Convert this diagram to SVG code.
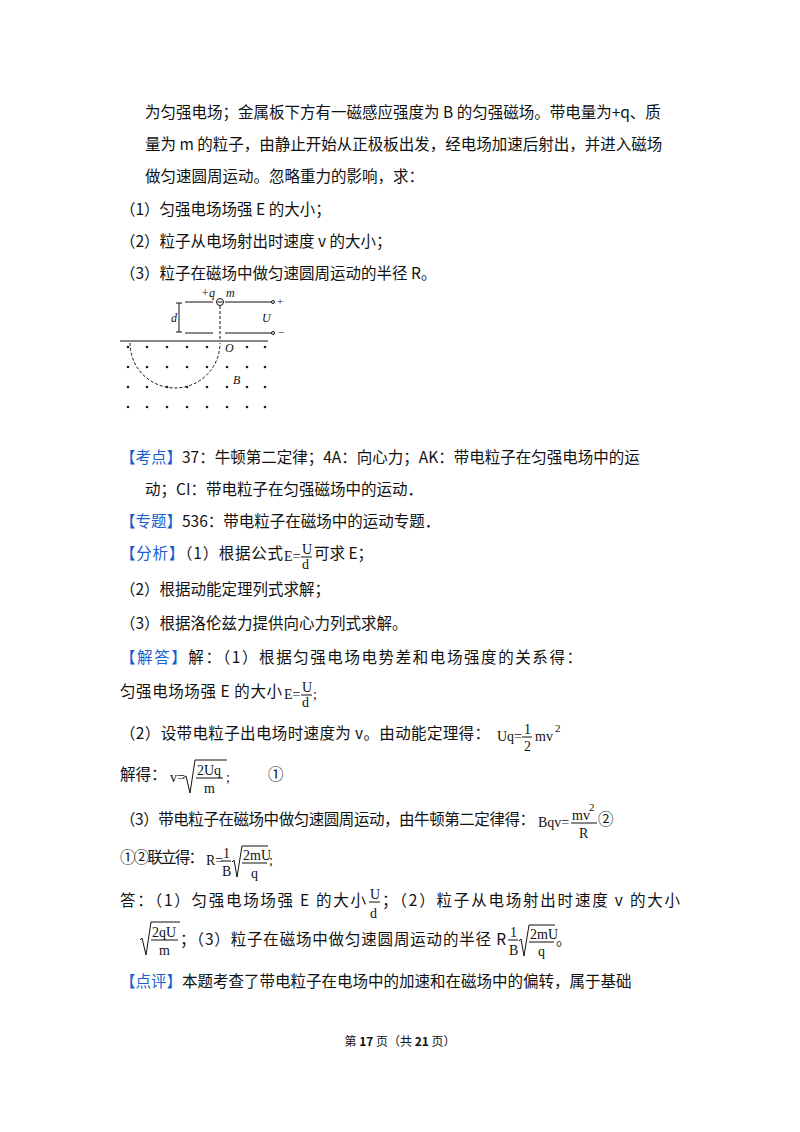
<svg xmlns="http://www.w3.org/2000/svg" width="800" height="1132" viewBox="0 0 800 1132">
<style>
text{font-family:"Noto Sans CJK SC","Noto Sans",sans-serif;font-size:15.5px;fill:#111}
.m{font-family:"Liberation Serif",serif;font-size:14px}
.s{font-family:"Liberation Serif",serif;font-size:11px}
.i{font-family:"Liberation Serif",serif;font-style:italic;font-size:12px}
.b{fill:#1a5fd0}
.ln{stroke:#111;stroke-width:1;fill:none}
.dot{fill:#222}
</style>
<rect width="800" height="1132" fill="#fff"/>
<text x="145" y="118">为匀强电场；金属板下方有一磁感应强度为 B 的匀强磁场。带电量为+q、质</text>
<text x="145" y="150">量为 m 的粒子，由静止开始从正极板出发，经电场加速后射出，并进入磁场</text>
<text x="145" y="182">做匀速圆周运动。忽略重力的影响，求：</text>
<text x="120" y="215">（1）匀强电场场强 E 的大小；</text>
<text x="120" y="247">（2）粒子从电场射出时速度 v 的大小；</text>
<text x="120" y="279">（3）粒子在磁场中做匀速圆周运动的半径 R。</text>
<g id="figure">
<line class="ln" x1="185" y1="302" x2="213" y2="302" stroke-width="2"/>
<line class="ln" x1="225" y1="302" x2="258" y2="302" stroke-width="2"/>
<line class="ln" x1="258" y1="302" x2="272" y2="302"/>
<circle cx="273" cy="302" r="1.5" class="ln"/>
<line class="ln" x1="185" y1="333" x2="213" y2="333" stroke-width="2"/>
<line class="ln" x1="225" y1="333" x2="258" y2="333" stroke-width="2"/>
<line class="ln" x1="258" y1="333" x2="272" y2="333"/>
<circle cx="273" cy="333" r="1.5" class="ln"/>
<circle cx="220" cy="302" r="3.5" class="ln"/>
<line class="ln" x1="217.5" y1="302" x2="222.5" y2="302"/>
<line class="ln" x1="179" y1="303" x2="179" y2="332"/>
<line class="ln" x1="176" y1="303" x2="182" y2="303"/>
<line class="ln" x1="176" y1="332" x2="182" y2="332"/>
<line class="ln" x1="120" y1="341" x2="268" y2="341"/>
<line class="ln" x1="220" y1="306" x2="220" y2="341" stroke-dasharray="3,2"/>
<path class="ln" d="M130 343 A45 45 0 0 0 220 343" stroke-dasharray="3,2"/>
<text class="i" x="201" y="297">+q</text>
<text class="i" x="226" y="297">m</text>
<text class="i" x="171" y="322">d</text>
<text class="i" x="262" y="322">U</text>
<text class="s" x="277" y="305">+</text>
<text class="s" x="278" y="336">−</text>
<text class="i" x="225" y="352">O</text>
<text class="i" x="233" y="384">B</text>
<g class="dot">
<circle cx="128" cy="347" r="1.3"/><circle cx="147" cy="347" r="1.3"/><circle cx="167" cy="347" r="1.3"/><circle cx="187" cy="347" r="1.3"/><circle cx="207" cy="347" r="1.3"/><circle cx="247" cy="347" r="1.3"/><circle cx="265" cy="347" r="1.3"/>
<circle cx="128" cy="367" r="1.3"/><circle cx="147" cy="367" r="1.3"/><circle cx="167" cy="367" r="1.3"/><circle cx="187" cy="367" r="1.3"/><circle cx="207" cy="367" r="1.3"/><circle cx="227" cy="367" r="1.3"/><circle cx="247" cy="367" r="1.3"/><circle cx="265" cy="367" r="1.3"/>
<circle cx="128" cy="387" r="1.3"/><circle cx="147" cy="387" r="1.3"/><circle cx="167" cy="387" r="1.3"/><circle cx="187" cy="387" r="1.3"/><circle cx="207" cy="387" r="1.3"/><circle cx="227" cy="387" r="1.3"/><circle cx="247" cy="387" r="1.3"/><circle cx="265" cy="387" r="1.3"/>
<circle cx="128" cy="407" r="1.3"/><circle cx="147" cy="407" r="1.3"/><circle cx="167" cy="407" r="1.3"/><circle cx="187" cy="407" r="1.3"/><circle cx="207" cy="407" r="1.3"/><circle cx="227" cy="407" r="1.3"/><circle cx="247" cy="407" r="1.3"/><circle cx="265" cy="407" r="1.3"/>
</g>
</g>
<text x="120" y="463"><tspan class="b">【考点】</tspan>37：牛顿第二定律；4A：向心力；AK：带电粒子在匀强电场中的运</text>
<text x="145" y="495">动；CI：带电粒子在匀强磁场中的运动．</text>
<text x="120" y="527"><tspan class="b">【专题】</tspan>536：带电粒子在磁场中的运动专题．</text>
<text x="120" y="559" textLength="163"><tspan class="b">【分析】</tspan>（1）根据公式</text>
<text class="m" x="284" y="561">E=</text><text class="m" x="302" y="554">U</text><line class="ln" x1="301" y1="557" x2="312" y2="557"/><text class="m" x="302" y="569">d</text>
<text x="314" y="559">可求 E；</text>
<text x="120" y="595">（2）根据动能定理列式求解；</text>
<text x="120" y="629">（3）根据洛伦兹力提供向心力列式求解。</text>
<text x="120" y="663" textLength="462"><tspan class="b">【解答】</tspan>解：（1）根据匀强电场电势差和电场强度的关系得：</text>
<text x="120" y="697" textLength="162">匀强电场场强 E 的大小</text>
<text class="m" x="284" y="699">E=</text><text class="m" x="302" y="692">U</text><line class="ln" x1="301" y1="695" x2="312" y2="695"/><text class="m" x="302" y="707">d</text><text class="m" x="313" y="699">;</text>
<text x="120" y="739" textLength="370">（2）设带电粒子出电场时速度为 v。由动能定理得：</text>
<text class="m" x="497" y="741">Uq=</text><text class="m" x="524" y="734">1</text><line class="ln" x1="522" y1="737" x2="532" y2="737"/><text class="m" x="524" y="751">2</text><text class="m" x="535" y="741">mv</text><text class="s" x="555" y="732">2</text>
<text x="120" y="780">解得：</text>
<text class="m" x="170" y="782">v=</text><path class="ln" d="M183 778 L186 776 L190 793 L195 760 L227 760"/><text class="m" x="197" y="775">2Uq</text><line class="ln" x1="196" y1="778" x2="223" y2="778"/><text class="m" x="204" y="793">m</text><text class="m" x="226" y="782">;</text>
<text x="268" y="780">①</text>
<text x="120" y="825" textLength="415">（3）带电粒子在磁场中做匀速圆周运动，由牛顿第二定律得：</text>
<text class="m" x="538" y="827">Bqv=</text><text class="m" x="572" y="820">mv</text><text class="s" x="589" y="811">2</text><line class="ln" x1="571" y1="823" x2="597" y2="823"/><text class="m" x="579" y="838">R</text>
<text x="598" y="825">②</text>
<text x="120" y="863" textLength="84">①②联立得：</text>
<text class="m" x="206" y="865">R=</text><text class="m" x="223" y="858">1</text><line class="ln" x1="221" y1="861" x2="231" y2="861"/><text class="m" x="222" y="876">B</text><path class="ln" d="M232 862 L234 860 L237 877 L242 846 L268 846"/><text class="m" x="243" y="860">2mU</text><line class="ln" x1="242" y1="863" x2="267" y2="863"/><text class="m" x="251" y="878">q</text><text class="m" x="269" y="865">;</text>
<text x="120" y="906" textLength="246">答：（1）匀强电场场强 E 的大小</text>
<text class="m" x="370" y="899">U</text><line class="ln" x1="369" y1="902" x2="380" y2="902"/><text class="m" x="370" y="918">d</text>
<text x="382" y="906" textLength="298">；（2）粒子从电场射出时速度 v 的大小</text>
<path class="ln" d="M140 940 L142 938 L146 955 L151 922 L180 922"/><text class="m" x="152" y="937">2qU</text><line class="ln" x1="151" y1="940" x2="178" y2="940"/><text class="m" x="159" y="955">m</text>
<text x="180" y="945" textLength="326">；（3）粒子在磁场中做匀速圆周运动的半径 R</text>
<text class="m" x="510" y="937">1</text><line class="ln" x1="508" y1="940" x2="518" y2="940"/><text class="m" x="509" y="955">B</text><path class="ln" d="M519 941 L521 939 L524 956 L529 925 L555 925"/><text class="m" x="530" y="939">2mU</text><line class="ln" x1="529" y1="942" x2="554" y2="942"/><text class="m" x="538" y="956">q</text><text x="556" y="945">。</text>
<text x="120" y="987"><tspan class="b">【点评】</tspan>本题考查了带电粒子在电场中的加速和在磁场中的偏转，属于基础</text>
<text x="400" y="1046" text-anchor="middle" style="font-size:12px">第 <tspan font-weight="bold">17</tspan> 页（共 <tspan font-weight="bold">21</tspan> 页）</text>
</svg>
